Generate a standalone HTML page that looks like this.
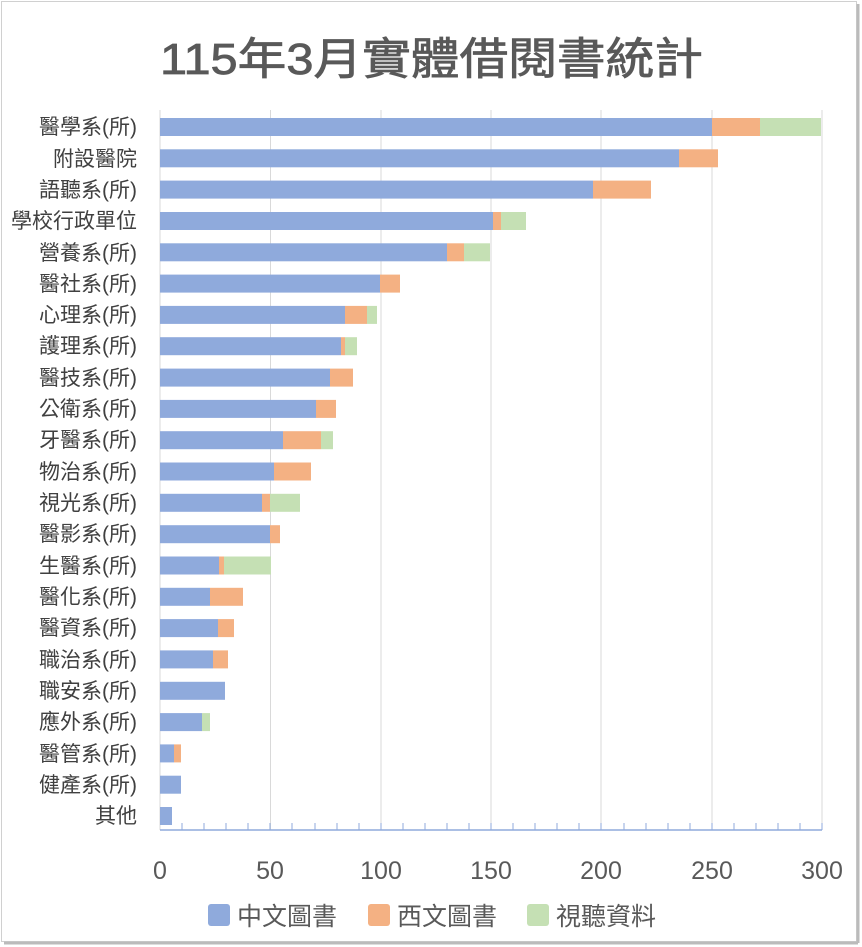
<!DOCTYPE html>
<html><head><meta charset="utf-8"><style>
body{margin:0;background:#fff}
svg{display:block;font-family:"Liberation Sans","Noto Sans CJK TC",sans-serif}
</style></head><body>
<svg width="862" height="947" viewBox="0 0 862 947">
<rect x="1.5" y="1.5" width="855" height="940" fill="#fff" stroke="#d0d0d0"/>
<line x1="858" y1="4" x2="858" y2="943" stroke="#bbb" stroke-width="3"/>
<line x1="4" y1="943" x2="858" y2="943" stroke="#bbb" stroke-width="3"/>
<text x="160" y="74" font-size="44" fill="#595959" stroke="#595959" stroke-width="0.8" textLength="543" lengthAdjust="spacingAndGlyphs">115年3月實體借閱書統計</text>
<g stroke="#d9d9d9" stroke-width="1">
<line x1="270.5" y1="110" x2="270.5" y2="830"/>
<line x1="381" y1="110" x2="381" y2="830"/>
<line x1="491" y1="110" x2="491" y2="830"/>
<line x1="601" y1="110" x2="601" y2="830"/>
<line x1="712" y1="110" x2="712" y2="830"/>
<line x1="822" y1="110" x2="822" y2="830"/>
<line x1="160" y1="110" x2="160" y2="830"/>
</g>
<g id="bars">
<g transform="translate(0,118)"><rect x="160" width="552" height="18" fill="#8faadc"/><rect x="712" width="48" height="18" fill="#f4b183"/><rect x="760" width="61" height="18" fill="#c5e0b4"/></g>
<g transform="translate(0,149.3)"><rect x="160" width="519" height="18" fill="#8faadc"/><rect x="679" width="39" height="18" fill="#f4b183"/></g>
<g transform="translate(0,180.6)"><rect x="160" width="433" height="18" fill="#8faadc"/><rect x="593" width="58" height="18" fill="#f4b183"/></g>
<g transform="translate(0,212)"><rect x="160" width="333" height="18" fill="#8faadc"/><rect x="493" width="8" height="18" fill="#f4b183"/><rect x="501" width="25" height="18" fill="#c5e0b4"/></g>
<g transform="translate(0,243.3)"><rect x="160" width="287" height="18" fill="#8faadc"/><rect x="447" width="17" height="18" fill="#f4b183"/><rect x="464" width="26" height="18" fill="#c5e0b4"/></g>
<g transform="translate(0,274.6)"><rect x="160" width="220" height="18" fill="#8faadc"/><rect x="380" width="20" height="18" fill="#f4b183"/></g>
<g transform="translate(0,305.9)"><rect x="160" width="185" height="18" fill="#8faadc"/><rect x="345" width="22" height="18" fill="#f4b183"/><rect x="367" width="10" height="18" fill="#c5e0b4"/></g>
<g transform="translate(0,337.2)"><rect x="160" width="181" height="18" fill="#8faadc"/><rect x="341" width="4" height="18" fill="#f4b183"/><rect x="345" width="12" height="18" fill="#c5e0b4"/></g>
<g transform="translate(0,368.6)"><rect x="160" width="170" height="18" fill="#8faadc"/><rect x="330" width="23" height="18" fill="#f4b183"/></g>
<g transform="translate(0,399.9)"><rect x="160" width="156" height="18" fill="#8faadc"/><rect x="316" width="20" height="18" fill="#f4b183"/></g>
<g transform="translate(0,431.2)"><rect x="160" width="123" height="18" fill="#8faadc"/><rect x="283" width="38" height="18" fill="#f4b183"/><rect x="321" width="12" height="18" fill="#c5e0b4"/></g>
<g transform="translate(0,462.5)"><rect x="160" width="114" height="18" fill="#8faadc"/><rect x="274" width="37" height="18" fill="#f4b183"/></g>
<g transform="translate(0,493.8)"><rect x="160" width="102" height="18" fill="#8faadc"/><rect x="262" width="8" height="18" fill="#f4b183"/><rect x="270" width="30" height="18" fill="#c5e0b4"/></g>
<g transform="translate(0,525.2)"><rect x="160" width="110" height="18" fill="#8faadc"/><rect x="270" width="10" height="18" fill="#f4b183"/></g>
<g transform="translate(0,556.5)"><rect x="160" width="59" height="18" fill="#8faadc"/><rect x="219" width="5" height="18" fill="#f4b183"/><rect x="224" width="47" height="18" fill="#c5e0b4"/></g>
<g transform="translate(0,587.8)"><rect x="160" width="50" height="18" fill="#8faadc"/><rect x="210" width="33" height="18" fill="#f4b183"/></g>
<g transform="translate(0,619.1)"><rect x="160" width="58" height="18" fill="#8faadc"/><rect x="218" width="16" height="18" fill="#f4b183"/></g>
<g transform="translate(0,650.4)"><rect x="160" width="53" height="18" fill="#8faadc"/><rect x="213" width="15" height="18" fill="#f4b183"/></g>
<g transform="translate(0,681.8)"><rect x="160" width="65" height="18" fill="#8faadc"/></g>
<g transform="translate(0,713.1)"><rect x="160" width="42" height="18" fill="#8faadc"/><rect x="202" width="8" height="18" fill="#c5e0b4"/></g>
<g transform="translate(0,744.4)"><rect x="160" width="14" height="18" fill="#8faadc"/><rect x="174" width="7" height="18" fill="#f4b183"/></g>
<g transform="translate(0,775.7)"><rect x="160" width="21" height="18" fill="#8faadc"/></g>
<g transform="translate(0,807)"><rect x="160" width="12" height="18" fill="#8faadc"/></g>
</g>
<line x1="160" y1="830" x2="822" y2="830" stroke="#8faadc" stroke-width="1.5"/>
<g stroke="#8faadc" stroke-width="1">
<line x1="182" y1="823" x2="182" y2="830"/><line x1="204" y1="823" x2="204" y2="830"/><line x1="226" y1="823" x2="226" y2="830"/><line x1="248" y1="823" x2="248" y2="830"/><line x1="270" y1="823" x2="270" y2="830"/>
<line x1="292" y1="823" x2="292" y2="830"/><line x1="315" y1="823" x2="315" y2="830"/><line x1="337" y1="823" x2="337" y2="830"/><line x1="359" y1="823" x2="359" y2="830"/><line x1="381" y1="823" x2="381" y2="830"/>
<line x1="403" y1="823" x2="403" y2="830"/><line x1="425" y1="823" x2="425" y2="830"/><line x1="447" y1="823" x2="447" y2="830"/><line x1="469" y1="823" x2="469" y2="830"/><line x1="491" y1="823" x2="491" y2="830"/>
<line x1="513" y1="823" x2="513" y2="830"/><line x1="535" y1="823" x2="535" y2="830"/><line x1="557" y1="823" x2="557" y2="830"/><line x1="579" y1="823" x2="579" y2="830"/><line x1="601" y1="823" x2="601" y2="830"/>
<line x1="624" y1="823" x2="624" y2="830"/><line x1="646" y1="823" x2="646" y2="830"/><line x1="668" y1="823" x2="668" y2="830"/><line x1="690" y1="823" x2="690" y2="830"/><line x1="712" y1="823" x2="712" y2="830"/>
<line x1="734" y1="823" x2="734" y2="830"/><line x1="756" y1="823" x2="756" y2="830"/><line x1="778" y1="823" x2="778" y2="830"/><line x1="800" y1="823" x2="800" y2="830"/><line x1="822" y1="823" x2="822" y2="830"/>
</g>
<g font-size="25" fill="#595959" text-anchor="middle">
<text x="160" y="879">0</text><text x="270" y="879">50</text><text x="381" y="879">100</text><text x="491" y="879">150</text><text x="601" y="879">200</text><text x="712" y="879">250</text><text x="822" y="879">300</text>
</g>
<g font-size="21" fill="#404040" text-anchor="end">
<text x="137" y="134">醫學系(所)</text>
<text x="137" y="166">附設醫院</text>
<text x="137" y="197">語聽系(所)</text>
<text x="137" y="228">學校行政單位</text>
<text x="137" y="260">營養系(所)</text>
<text x="137" y="291">醫社系(所)</text>
<text x="137" y="322">心理系(所)</text>
<text x="137" y="353">護理系(所)</text>
<text x="137" y="385">醫技系(所)</text>
<text x="137" y="416">公衛系(所)</text>
<text x="137" y="447">牙醫系(所)</text>
<text x="137" y="479">物治系(所)</text>
<text x="137" y="510">視光系(所)</text>
<text x="137" y="541">醫影系(所)</text>
<text x="137" y="573">生醫系(所)</text>
<text x="137" y="604">醫化系(所)</text>
<text x="137" y="635">醫資系(所)</text>
<text x="137" y="667">職治系(所)</text>
<text x="137" y="698">職安系(所)</text>
<text x="137" y="729">應外系(所)</text>
<text x="137" y="761">醫管系(所)</text>
<text x="137" y="792">健產系(所)</text>
<text x="137" y="823">其他</text>
</g>
<g font-size="25" fill="#595959">
<rect x="208" y="904" width="22" height="22" rx="3" fill="#8faadc"/><text x="237" y="925">中文圖書</text>
<rect x="368" y="904" width="22" height="22" rx="3" fill="#f4b183"/><text x="397" y="925">西文圖書</text>
<rect x="527" y="904" width="22" height="22" rx="3" fill="#c5e0b4"/><text x="556" y="925">視聽資料</text>
</g>
</svg>
</body></html>
